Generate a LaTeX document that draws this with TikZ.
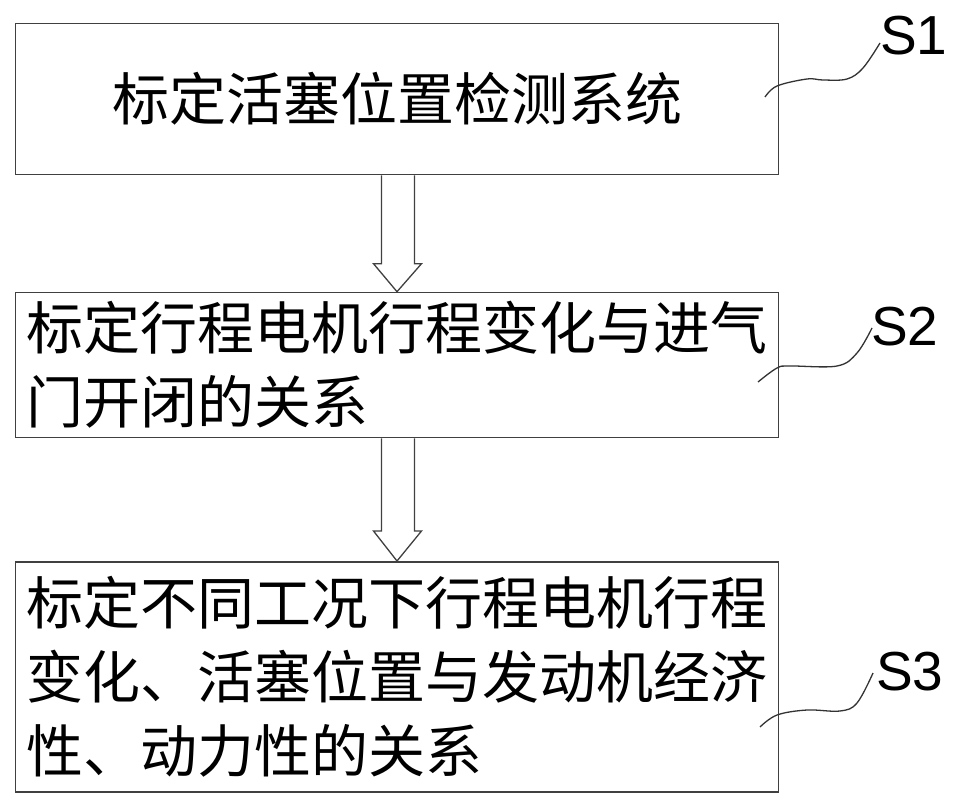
\documentclass[tikz,border=0pt]{standalone}
\usepackage{fontspec}
\setmainfont{Liberation Sans}
\newfontfamily\cjk{Noto Sans CJK SC}
\usetikzlibrary{calc}
\begin{document}
\begin{tikzpicture}[x=1pt,y=-1pt,
 box/.style={draw=black!75, line width=1.6pt, inner xsep=11pt, inner ysep=0pt, anchor=north west, minimum width=763pt, text width=741pt, font=\cjk\fontsize{57}{74}\selectfont},
 lbl/.style={font=\fontsize{55}{60}\selectfont, inner sep=0pt, anchor=base west},
 wave/.style={draw=black!80, line width=1.3pt},
 blockarrow/.style={draw=black!75, line width=1.3pt, fill=white, line join=miter}]
\useasboundingbox[fill=white] (0,0) rectangle (957,808);
\node[box, minimum height=151pt, align=center] (b1) at (14.7,22.7) {标定活塞位置检测系统};
\node[box, minimum height=145pt, align=left] (b2) at (14.7,291.7) {标定行程电机行程变化与进气\\门开闭的关系};
\node[box, minimum height=230pt, align=left] (b3) at (14.7,561) {标定不同工况下行程电机行程\\变化、活塞位置与发动机经济\\性、动力性的关系};
% block arrows
\draw[blockarrow] ($(b1.south)+(-15.5,0)$) -- ($(b2.north)+(-15.5,-28)$) -- ($(b2.north)+(-23.5,-28)$) -- (b2.north) -- ($(b2.north)+(24.5,-28)$) -- ($(b2.north)+(17.5,-28)$) -- ($(b1.south)+(17.5,0)$);
\draw[blockarrow] ($(b2.south)+(-15.5,0)$) -- ($(b3.north)+(-15.5,-30)$) -- ($(b3.north)+(-23.5,-30)$) -- (b3.north) -- ($(b3.north)+(24.5,-30)$) -- ($(b3.north)+(17.5,-30)$) -- ($(b2.south)+(17.5,0)$);
% labels
\node[lbl] (s1) at (880,55) {S1};
\node[lbl] (s2) at (871,345) {S2};
\node[lbl] (s3) at (876,690) {S3};
% leader squiggles
\draw[wave] plot[smooth, tension=0.6] coordinates {(765,97) (777,86) (807,79) (823,80) (847,79) (863,68) (880,43)};
\draw[wave] plot[smooth, tension=0.6] coordinates {(758,382) (777,368) (790,366) (837,366) (857,353) (872,328)};
\draw[wave] plot[smooth, tension=0.6] coordinates {(760,727) (777,715) (807,710) (840,711) (857,703) (873,673)};
\end{tikzpicture}
\end{document}
